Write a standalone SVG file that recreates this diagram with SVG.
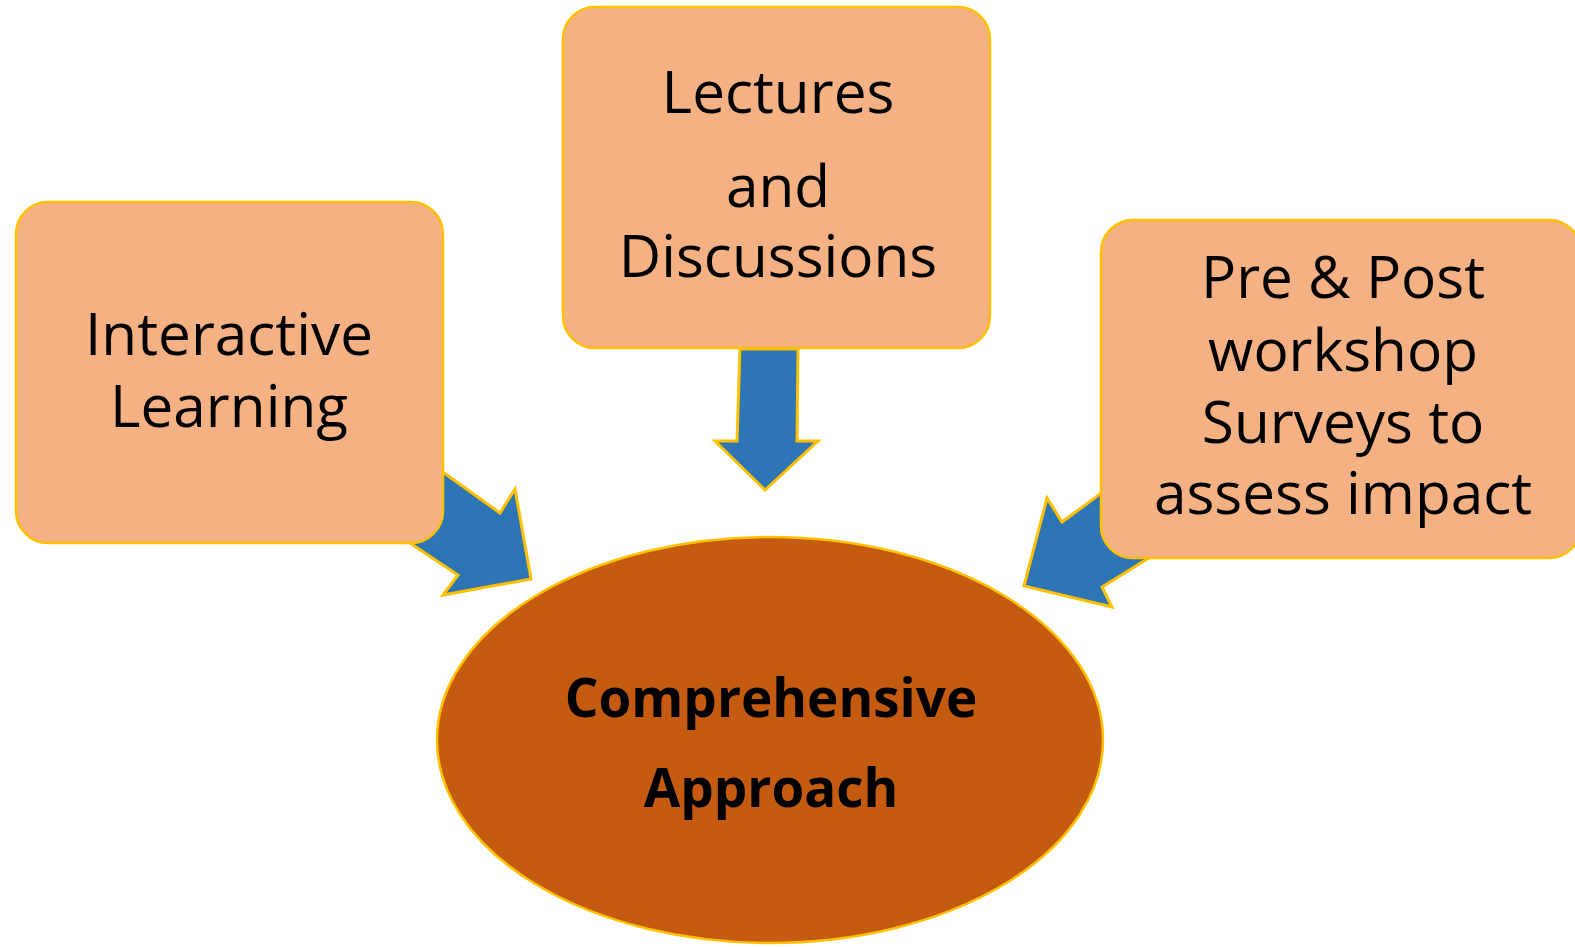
<svg xmlns="http://www.w3.org/2000/svg" width="1575" height="947" viewBox="0 0 1575 947">
<style>
.box{fill:#F4B183;stroke:#FFC000;stroke-width:2.5}
.arrow{fill:#2E75B6;stroke:#FFC000;stroke-width:3;stroke-linejoin:miter}
.t{font-family:"Open Sans","Noto Sans",sans-serif;font-size:58.5px;fill:#000;text-anchor:middle}
.tb{font-family:"Open Sans","Noto Sans",sans-serif;font-size:53px;font-weight:bold;fill:#000;text-anchor:middle}
</style>
<rect width="1575" height="947" fill="#fff"/>
<g id="connectors">
<polygon class="arrow" points="380,427 500,513 515,489 531,579 443,595 458,575 350,503"/>
<polygon class="arrow" points="740,349 798,349 797,441 818,441 765,490 715,441 737,441"/>
<polygon class="arrow" points="1160,450 1062,522 1047,498 1024,586 1112,607 1102,587 1210,520"/>
</g>
<g id="comprehensive">
<ellipse cx="770" cy="740" rx="333" ry="203" fill="#C55A11" stroke="#FFC000" stroke-width="2.5"/>
<text class="tb" x="771" y="717">Comprehensive</text>
<text class="tb" x="771" y="807">Approach</text>
</g>
<g id="interactive">
<rect class="box" x="16" y="202" width="427" height="341" rx="32"/>
<text class="t" x="229" y="355">Interactive</text>
<text class="t" x="229" y="427">Learning</text>
</g>
<g id="lectures">
<rect class="box" x="563" y="7" width="427" height="341" rx="32"/>
<text class="t" x="778" y="113">Lectures</text>
<text class="t" x="778" y="207">and</text>
<text class="t" x="778" y="277">Discussions</text>
</g>
<g id="surveys">
<rect class="box" x="1101" y="220" width="480" height="338" rx="32"/>
<text class="t" x="1343" y="298">Pre &amp; Post</text>
<text class="t" x="1343" y="371">workshop</text>
<text class="t" x="1343" y="443">Surveys to</text>
<text class="t" x="1343" y="514">assess impact</text>
</g>
</svg>
